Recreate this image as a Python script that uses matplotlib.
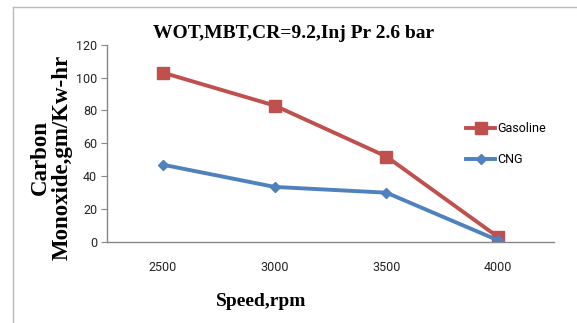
import matplotlib
matplotlib.use("Agg")
import matplotlib.pyplot as plt
from matplotlib.lines import Line2D

speeds = ["2500", "3000", "3500", "4000"]
gasoline = [103, 83, 52, 3]
cng = [47, 33.5, 30, 1]
yticks = [0, 20, 40, 60, 80, 100, 120]

tickfam = ["Roboto", "DejaVu Sans"]
tsize = 9

fig = plt.figure(figsize=(5.77, 3.23), dpi=100)
fig.patch.set_facecolor("white")
ax = fig.add_axes([107/577, 1-242/323, 447/577, (242-44.7)/323])

x = list(range(len(speeds)))
ax.plot(x, gasoline, color="#C0504D", lw=2.8, marker="s", ms=8.5, label="Gasoline")
ax.plot(x, cng, color="#4F81BD", lw=2.8, marker="D", ms=5.5, label="CNG")

ax.set_xlim(-0.5, 3.5)
ax.set_ylim(0, 120)
ax.set_xticks(x)
ax.set_xticklabels(speeds)
ax.set_yticks(yticks)
for lab in ax.get_xticklabels() + ax.get_yticklabels():
    lab.set_fontfamily(tickfam)
    lab.set_fontsize(tsize)
    lab.set_color("#222222")
ax.tick_params(axis="x", length=0, pad=14)
ax.tick_params(axis="y", length=4, color="#868686", pad=3)
for s in ["top", "right"]:
    ax.spines[s].set_visible(False)
for s in ["left", "bottom"]:
    ax.spines[s].set_color("#868686")
    ax.spines[s].set_linewidth(1)

fig.text(294/577, 1-33/323, "WOT,MBT,CR=9.2,Inj Pr 2.6 bar", ha="center", va="center",
         family="Liberation Serif", fontweight="bold", fontsize=14)
fig.text(261/577, 1-302/323, "Speed,rpm", ha="center", va="center",
         family="Liberation Serif", fontweight="bold", fontsize=14)
fig.text(40/577, 1-157/323, "Carbon", ha="center", va="center", rotation=90,
         family="Liberation Serif", fontweight="bold", fontsize=16.5)
fig.text(62/577, 1-157/323, "Monoxide,gm/Kw-hr", ha="center", va="center", rotation=90,
         family="Liberation Serif", fontweight="bold", fontsize=16.5)

leg = ax.legend(loc="upper left", bbox_to_anchor=(455/577, 1-111/323), bbox_transform=fig.transFigure,
                frameon=False, handlelength=2.3, handletextpad=0.15, labelspacing=1.45,
                prop=dict(family=tickfam, size=tsize))

# figure border lines (top and left)
fig.add_artist(Line2D([13/577, 1], [1-7/323, 1-7/323], transform=fig.transFigure, color="#BBBBBB", lw=1))
fig.add_artist(Line2D([13/577, 13/577], [0, 1-7/323], transform=fig.transFigure, color="#BBBBBB", lw=1))

fig.savefig("out.png", dpi=100)
